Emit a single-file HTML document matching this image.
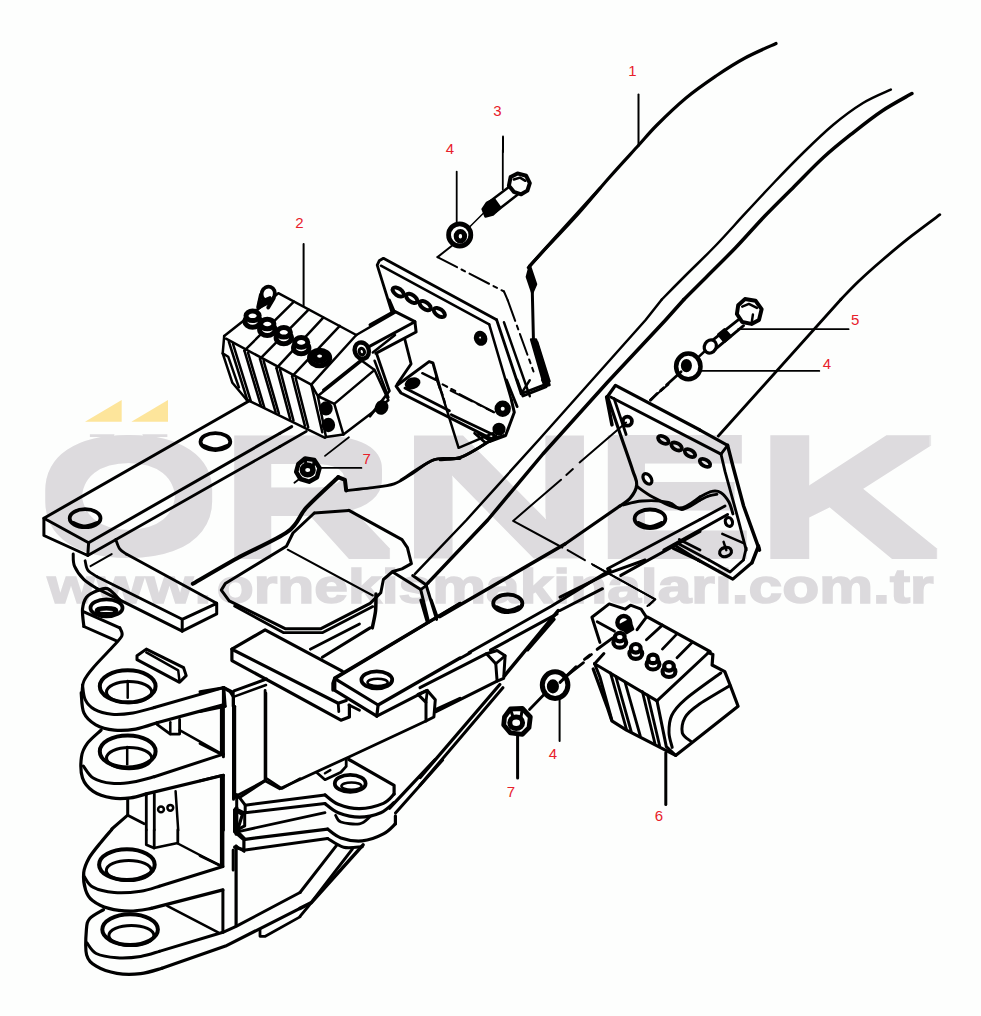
<!DOCTYPE html>
<html lang="tr"><head><meta charset="utf-8"><title>ÖRNEK</title>
<style>
html,body{margin:0;padding:0;background:#fdfefd;}
body{width:981px;height:1016px;overflow:hidden;position:relative;font-family:"Liberation Sans",sans-serif;}
svg{position:absolute;left:0;top:0;display:block}
.wm text{font-family:"Liberation Sans",sans-serif;font-weight:bold;fill:#dddbde}
.url{font-family:"Liberation Sans",sans-serif;font-weight:bold;fill:#dcdadd;stroke:#dcdadd;stroke-width:1.6;font-size:48.3px}
.ln path,.ln ellipse{fill:none;stroke:#000;stroke-linecap:round;stroke-linejoin:round}
.num text{font-family:"Liberation Sans",sans-serif;font-size:15px;fill:#e8202a;text-anchor:middle}
.lead path{fill:none;stroke:#000;stroke-width:1.4}
</style></head><body>
<svg width="981" height="1016" viewBox="0 0 981 1016">
<defs><filter id="dil" x="-5%" y="-10%" width="110%" height="120%"><feMorphology operator="dilate" radius="1 5"/></filter><clipPath id="oc"><rect x="30" y="434.2" width="200" height="134"/></clipPath></defs>
<g class="wm">
<g clip-path="url(#oc)"><g filter="url(#dil)"><text transform="translate(36.50,551.20) scale(2.374,1.600)" font-size="100">Ö</text></g></g>
<g filter="url(#dil)"><text transform="translate(219.12,553.60) scale(2.427,1.645)" font-size="100">R</text></g>
<g filter="url(#dil)"><text transform="translate(395.92,553.60) scale(2.856,1.645)" font-size="100">N</text></g>
<g filter="url(#dil)"><text transform="translate(592.53,553.60) scale(2.439,1.645)" font-size="100">E</text></g>
<g filter="url(#dil)"><text transform="translate(754.14,553.60) scale(2.557,1.645)" font-size="100">K</text></g>
<polygon points="85,421.7 121.7,421.7 121.7,400" fill="#fde59b" stroke="none"/>
<polygon points="131.4,421.7 168,421.7 168,400" fill="#fde59b" stroke="none"/>
</g>
<text class="url" transform="translate(47,603) scale(1.254,1)" x="0.5 39.6 79 117.6 135.4">www.ornekismakinalari.com.tr</text>
<g class="ln">
<!-- a_boom.txt -->
<path d="M776.0,43.5 C770.8,45.9 755.0,52.6 745.0,58.0 C735.0,63.4 725.8,69.3 716.0,76.0 C706.2,82.7 695.8,89.8 686.0,98.0 C676.2,106.2 665.2,116.8 657.0,125.0 C648.8,133.2 645.2,138.0 637.0,147.0 C628.8,156.0 617.8,167.8 608.0,179.0 C598.2,190.2 587.8,203.0 578.0,214.0 C568.2,225.0 557.3,236.1 549.0,245.0 C540.7,253.9 531.8,263.8 528.4,267.6" stroke-width="3.2"/>
<path d="M890.8,89.6 C886.2,91.8 872.6,97.1 863.0,103.0 C853.4,108.9 842.8,116.8 833.0,125.0 C823.2,133.2 813.7,142.5 804.0,152.0 C794.3,161.5 784.4,171.7 774.6,182.0 C764.8,192.3 754.8,203.1 745.0,213.7 C735.2,224.3 725.5,235.3 715.7,245.5 C705.9,255.7 695.0,266.0 686.0,275.0 C677.0,284.0 665.8,295.4 661.8,299.5" stroke-width="2.5"/>
<path d="M911.9,93.5 C907.0,96.4 892.2,104.2 882.4,110.7 C872.6,117.2 862.8,125.0 853.0,132.8 C843.2,140.6 833.4,148.3 823.6,157.3 C813.8,166.3 803.8,176.9 794.0,186.7 C784.2,196.5 774.6,205.8 764.8,216.0 C755.0,226.2 745.1,237.8 735.3,248.0 C725.5,258.2 714.6,268.8 706.0,277.4 C697.4,286.0 687.6,295.8 683.9,299.5" stroke-width="3.5"/>
<path d="M939.8,214.7 C935.1,218.2 921.5,228.1 911.9,235.7 C902.3,243.2 891.4,252.3 882.4,260.0 C873.4,267.7 864.8,275.4 857.9,282.0 C851.0,288.6 843.6,296.6 840.8,299.5" stroke-width="2.8"/>
<path d="M840.8,299.5 L718.3,436.0" stroke-width="2.8"/>
<path d="M661.8,299.5 L645.6,320.0 L540.0,438.5 L466.5,520.0 L415.0,573.8" stroke-width="2.5"/>
<path d="M683.9,299.5 L665.6,320.0 L607.0,382.8 L542.9,454.0 L487.7,520.0 L427.3,583.6" stroke-width="3.5"/>
<!-- b1.txt -->
<path d="M456.7,171.7 L456.7,223.8" stroke-width="1.8"/>
<path d="M502.8,150.0 L502.8,189.4" stroke-width="1.8"/>
<path d="M510.6,177.1 L517.5,173.4 L526.2,175.8 L529.8,183.2 L527.4,190.6 L521.2,194.3 L513.8,191.8 L508.9,185.7Z" stroke-width="4.0"/>
<path d="M513.8,179.5 L520.0,177.6 L525.4,180.8" stroke-width="2.5"/>
<path d="M508.9,186.9 L486.8,203.7" stroke-width="2.5"/>
<path d="M517.5,194.8 L495.9,211.5" stroke-width="2.5"/>
<path d="M486.8,202.9 L494.2,199.2 L500.3,207.8 L492.9,214.5 L485.5,216.5 L482.6,209.1Z" stroke-width="2.5" style="fill:#000"/>
<path d="M483.1,213.5 L468.3,228.3" stroke-width="1.5"/>
<ellipse cx="459.7" cy="234.9" rx="11.1" ry="11.1" transform="rotate(0 459.7 234.9)" stroke-width="4.8"/>
<ellipse cx="460.4" cy="236.2" rx="4.2" ry="4.7" transform="rotate(0 460.4 236.2)" stroke-width="5.0"/>
<path d="M451.6,246.0 L437.5,257.1" stroke-width="2.0"/>
<path d="M437.5,257.1 L504.0,291.5" stroke-width="2.0" stroke-dasharray="22,5,4,5"/>
<path d="M504.0,291.5 L507.7,300.2" stroke-width="2.0"/>
<path d="M507.7,300.2 L533.5,371.5" stroke-width="2.0" stroke-dasharray="22,5,4,5"/>
<path d="M392.0,312.5 L377.2,265.2 L379.2,260.8 L383.4,258.3 L496.6,319.8" stroke-width="2.8"/>
<path d="M380.9,265.7 L489.2,324.3" stroke-width="2.5"/>
<path d="M496.6,319.8 L521.2,393.7" stroke-width="2.8"/>
<path d="M489.2,324.3 L511.4,400.1" stroke-width="2.5"/>
<path d="M504.0,322.3 L529.8,396.2" stroke-width="2.5"/>
<path d="M521.2,393.7 L547.1,383.8" stroke-width="2.8"/>
<path d="M529.8,380.2 L521.2,393.7" stroke-width="2.5"/>
<ellipse cx="398.2" cy="292.0" rx="6.4" ry="3.4" transform="rotate(35 398.2 292.0)" stroke-width="4.0"/>
<ellipse cx="411.7" cy="298.4" rx="6.4" ry="3.4" transform="rotate(35 411.7 298.4)" stroke-width="4.0"/>
<ellipse cx="425.2" cy="305.6" rx="6.4" ry="3.4" transform="rotate(35 425.2 305.6)" stroke-width="4.0"/>
<ellipse cx="439.3" cy="312.5" rx="6.4" ry="3.4" transform="rotate(35 439.3 312.5)" stroke-width="4.0"/>
<ellipse cx="480.6" cy="338.3" rx="5.4" ry="6.4" transform="rotate(-20 480.6 338.3)" stroke-width="2.5" style="fill:#000"/>
<ellipse cx="480.1" cy="337.6" rx="1.5" ry="1.7" transform="rotate(0 480.1 337.6)" stroke-width="1.2" style="fill:#fff"/>
<path d="M600.0,188.2 L529.8,265.7" stroke-width="3.2"/>
<path d="M529.8,265.7 L526.9,276.8 L532.3,292.8 L536.0,284.2 L532.3,273.1Z" stroke-width="2.5" style="fill:#000"/>
<path d="M532.3,291.5 L533.5,342.0" stroke-width="3.0"/>
<path d="M531.1,339.5 L536.0,339.5 L549.5,385.1 L544.6,386.3Z" stroke-width="2.5" style="fill:#000"/>
<path d="M537.2,342.0 L549.5,381.4" stroke-width="2.5"/>
<!-- c_valve2.txt -->
<path d="M224.2,336.0 L278.3,293.2 L356.3,335.0" stroke-width="2.5"/>
<path d="M293.9,301.7 L244.4,350.6" stroke-width="2.5"/>
<path d="M308.6,309.7 L260.0,358.9" stroke-width="2.5"/>
<path d="M323.3,317.6 L276.5,368.1" stroke-width="2.5"/>
<path d="M339.8,325.9 L292.1,376.3" stroke-width="2.5"/>
<path d="M356.3,335.0 L311.3,384.6" stroke-width="2.5"/>
<path d="M226.0,338.7 L311.3,384.6" stroke-width="2.5"/>
<path d="M228.8,341.5 L247.1,399.3" stroke-width="2.5"/>
<path d="M233.0,343.9 L250.8,401.1" stroke-width="2.5"/>
<path d="M244.4,350.6 L260.9,405.7" stroke-width="2.5"/>
<path d="M248.0,352.7 L264.2,407.2" stroke-width="2.5"/>
<path d="M260.0,358.9 L275.6,412.1" stroke-width="2.5"/>
<path d="M263.6,360.9 L278.9,413.6" stroke-width="2.5"/>
<path d="M276.5,368.1 L290.2,419.1" stroke-width="2.5"/>
<path d="M280.1,369.9 L293.5,420.6" stroke-width="2.5"/>
<path d="M292.1,376.3 L304.9,425.9" stroke-width="2.5"/>
<path d="M295.7,378.3 L308.2,427.3" stroke-width="2.5"/>
<path d="M311.3,384.6 L322.3,432.3" stroke-width="2.5"/>
<path d="M246.2,399.3 L325.1,437.8" stroke-width="2.5"/>
<path d="M224.2,336.0 L222.7,353.4 L232.4,382.8 L246.2,399.3" stroke-width="2.5"/>
<path d="M222.7,353.4 L228.2,356.7 L238.9,387.3" stroke-width="2.5"/>
<path d="M311.3,384.6 L317.8,396.0 L326.0,436.9 L343.4,434.5 L388.4,400.2 L374.6,369.9 L334.3,403.9 L317.8,396.0 L361.8,360.7 L374.6,369.9" stroke-width="2.5"/>
<path d="M334.3,403.9 L343.4,434.5" stroke-width="2.5"/>
<path d="M323.3,390.1 L360.0,360.7" stroke-width="2.5"/>
<path d="M374.6,360.7 L388.4,397.4" stroke-width="2.5"/>
<ellipse cx="326.0" cy="408.4" rx="5.5" ry="5.9" transform="rotate(0 326.0 408.4)" stroke-width="2.5" style="fill:#000"/>
<ellipse cx="328.4" cy="425.0" rx="5.5" ry="5.9" transform="rotate(0 328.4 425.0)" stroke-width="2.5" style="fill:#000"/>
<ellipse cx="381.1" cy="406.6" rx="4.0" ry="5.1" transform="rotate(30 381.1 406.6)" stroke-width="2.5" style="fill:#000"/>
<ellipse cx="361.8" cy="350.6" rx="7.0" ry="8.3" transform="rotate(-20 361.8 350.6)" stroke-width="4.4"/>
<ellipse cx="361.8" cy="351.6" rx="2.6" ry="3.3" transform="rotate(-20 361.8 351.6)" stroke-width="3.1"/>
<path d="M356.3,335.0 L394.8,312.7" stroke-width="2.5"/>
<path d="M372.8,352.5 L395.0,335.0" stroke-width="2.5"/>
<ellipse cx="268.2" cy="293.8" rx="6.6" ry="7.3" transform="rotate(20 268.2 293.8)" stroke-width="3.8" style="fill:#fff"/>
<path d="M260.9,294.7 L258.1,307.5" stroke-width="3.8"/>
<path d="M273.7,298.3 L268.2,307.5" stroke-width="3.8"/>
<path d="M259.0,302.0 L270.0,297.4 L271.0,302.0 L260.0,307.5Z" stroke-width="2.5" style="fill:#000"/>
<ellipse cx="252.6" cy="321.3" rx="7.7" ry="5.9" transform="rotate(0 252.6 321.3)" stroke-width="5.0" style="fill:#fff"/>
<ellipse cx="252.6" cy="315.8" rx="6.6" ry="4.8" transform="rotate(0 252.6 315.8)" stroke-width="5.0" style="fill:#fff"/>
<ellipse cx="267.3" cy="329.5" rx="7.7" ry="5.9" transform="rotate(0 267.3 329.5)" stroke-width="5.0" style="fill:#fff"/>
<ellipse cx="267.3" cy="324.0" rx="6.6" ry="4.8" transform="rotate(0 267.3 324.0)" stroke-width="5.0" style="fill:#fff"/>
<ellipse cx="283.8" cy="337.8" rx="7.7" ry="5.9" transform="rotate(0 283.8 337.8)" stroke-width="5.0" style="fill:#fff"/>
<ellipse cx="283.8" cy="332.3" rx="6.6" ry="4.8" transform="rotate(0 283.8 332.3)" stroke-width="5.0" style="fill:#fff"/>
<ellipse cx="301.2" cy="347.9" rx="7.7" ry="5.9" transform="rotate(0 301.2 347.9)" stroke-width="5.0" style="fill:#fff"/>
<ellipse cx="301.2" cy="342.4" rx="6.6" ry="4.8" transform="rotate(0 301.2 342.4)" stroke-width="5.0" style="fill:#fff"/>
<ellipse cx="319.6" cy="358.0" rx="10.1" ry="7.7" transform="rotate(0 319.6 358.0)" stroke-width="5.0" style="fill:#fff"/>
<ellipse cx="319.6" cy="356.1" rx="6.6" ry="5.1" transform="rotate(0 319.6 356.1)" stroke-width="5.0" style="fill:#fff"/>
<ellipse cx="319.6" cy="356.1" rx="3.7" ry="2.8" transform="rotate(0 319.6 356.1)" stroke-width="2.5"/>
<!-- d1.txt -->
<path d="M248.6,401.3 L43.9,518.2 L88.6,542.7 L280.0,433.2" stroke-width="3.0"/>
<path d="M43.9,518.2 L43.9,535.5 L87.8,555.5 L88.6,542.7" stroke-width="3.0"/>
<path d="M87.8,555.5 L280.0,446.5" stroke-width="2.8"/>
<ellipse cx="85.1" cy="518.2" rx="15.4" ry="9.0" transform="rotate(0 85.1 518.2)" stroke-width="3.8"/>
<path d="M73.2,522.2 C75.2,522.8 81.1,525.7 85.1,525.7 C89.2,525.7 95.5,522.8 97.6,522.2" stroke-width="2.5"/>
<ellipse cx="215.4" cy="441.7" rx="14.9" ry="8.5" transform="rotate(0 215.4 441.7)" stroke-width="3.8"/>
<path d="M203.4,445.1 C205.4,445.7 211.4,448.6 215.4,448.6 C219.4,448.6 225.4,445.7 227.4,445.1" stroke-width="2.5"/>
<path d="M115.7,539.5 C116.4,541.1 117.9,546.4 119.7,548.8 C121.5,551.3 125.2,553.2 126.3,554.1" stroke-width="2.8"/>
<path d="M126.3,554.1 L216.7,603.3" stroke-width="2.8"/>
<path d="M85.1,560.8 C85.6,562.3 85.8,567.4 87.8,570.1 C89.8,572.7 95.5,575.6 97.1,576.7" stroke-width="2.8"/>
<path d="M97.1,576.7 L182.2,619.3" stroke-width="2.8"/>
<path d="M73.2,554.1 C73.4,556.1 72.7,561.9 74.5,566.1 C76.3,570.3 80.0,575.6 83.8,579.4 C87.6,583.2 94.9,587.1 97.1,588.7" stroke-width="3.0"/>
<path d="M97.1,588.7 L182.2,631.2" stroke-width="3.0"/>
<path d="M90.5,566.1 L111.7,554.1" stroke-width="2.0"/>
<path d="M216.7,603.3 L216.7,613.9 L182.2,631.2 L182.2,619.3 L216.7,603.3" stroke-width="3.0"/>
<!-- d2.txt -->
<ellipse cx="106.5" cy="607.9" rx="16.0" ry="8.5" transform="rotate(0 106.5 607.9)" stroke-width="3.8" style="fill:#fff"/>
<ellipse cx="106.5" cy="610.5" rx="10.6" ry="3.2" transform="rotate(0 106.5 610.5)" stroke-width="2.5" style="fill:#000"/>
<ellipse cx="106.5" cy="611.3" rx="7.4" ry="1.3" transform="rotate(0 106.5 611.3)" stroke-width="1.2" style="fill:#fff"/>
<path d="M119.8,599.9 C117.8,598.0 111.6,590.2 107.8,588.7 C104.0,587.2 100.7,589.4 97.2,590.8 C93.6,592.3 89.0,594.2 86.5,597.2 C84.1,600.3 83.0,604.3 82.5,609.2 C82.1,614.1 83.6,623.6 83.9,626.5" stroke-width="3.2"/>
<path d="M83.9,611.8 L119.8,627.8" stroke-width="3.0"/>
<path d="M83.9,626.5 L117.1,641.1" stroke-width="3.0"/>
<path d="M119.8,627.8 C120.1,629.1 123.2,632.4 121.9,635.8 C120.6,639.1 116.6,642.4 111.8,647.7 C107.0,653.0 97.8,662.1 93.2,667.7 C88.5,673.2 85.7,676.8 83.9,681.0 C82.0,685.2 82.3,690.9 82.0,692.9" stroke-width="3.0"/>
<path d="M82.5,685.0 C83.0,687.4 83.2,695.5 85.2,699.6 C87.2,703.6 90.1,707.0 94.5,709.4 C98.9,711.8 105.4,713.6 111.8,714.2 C118.2,714.8 126.0,714.0 133.0,712.9 C140.1,711.8 150.8,708.4 154.3,707.5" stroke-width="3.0"/>
<path d="M154.3,707.5 L223.4,687.6" stroke-width="3.0"/>
<path d="M81.2,692.9 C81.7,696.2 81.4,707.5 83.9,712.9 C86.3,718.2 90.7,721.9 95.8,724.8 C100.9,727.7 107.8,729.4 114.4,730.1 C121.1,730.9 128.6,730.3 135.7,729.1 C142.8,727.8 153.4,723.8 157.0,722.7" stroke-width="3.2"/>
<path d="M157.0,722.7 L223.4,704.9" stroke-width="3.2"/>
<ellipse cx="127.7" cy="686.3" rx="27.9" ry="16.0" transform="rotate(0 127.7 686.3)" stroke-width="4.0"/>
<ellipse cx="129.1" cy="692.1" rx="22.6" ry="10.6" transform="rotate(0 129.1 692.1)" stroke-width="3.0"/>
<path d="M127.7,681.0 L127.7,697.7" stroke-width="2.5"/>
<path d="M137.0,655.7 L146.3,649.1 L183.6,667.7 L186.2,675.6 L179.6,682.3 L137.0,659.7Z" stroke-width="3.0"/>
<path d="M146.3,652.3 L178.2,670.3 L179.6,681.8" stroke-width="2.5"/>
<path d="M101.1,730.1 C98.8,732.4 90.6,739.0 87.3,743.4 C84.0,747.9 82.3,751.0 81.5,756.7 C80.7,762.5 80.6,772.2 82.5,778.0 C84.5,783.8 88.3,788.0 93.2,791.3 C98.0,794.6 105.6,796.8 111.8,797.9 C118.0,799.0 124.6,798.6 130.4,797.9 C136.1,797.3 143.7,794.6 146.3,793.9" stroke-width="3.2"/>
<path d="M146.3,793.9 L223.4,775.3" stroke-width="3.2"/>
<path d="M83.3,766.0 C85.0,768.0 88.4,775.1 93.2,778.0 C97.9,780.9 105.1,782.7 111.8,783.3 C118.4,784.0 126.0,783.1 133.0,782.0 C140.1,780.9 150.8,777.6 154.3,776.7" stroke-width="3.0"/>
<path d="M154.3,776.7 L223.4,754.1" stroke-width="3.0"/>
<ellipse cx="127.7" cy="751.4" rx="27.9" ry="16.0" transform="rotate(0 127.7 751.4)" stroke-width="4.0"/>
<ellipse cx="129.1" cy="758.1" rx="22.6" ry="10.6" transform="rotate(0 129.1 758.1)" stroke-width="3.0"/>
<path d="M127.2,746.9 L127.2,764.2" stroke-width="2.5"/>
<path d="M223.4,687.6 L223.4,756.7" stroke-width="3.0"/>
<path d="M223.4,687.6 L230.1,691.6 L233.5,696.9 L233.5,799.3" stroke-width="3.0"/>
<path d="M223.4,775.3 L223.4,830.1" stroke-width="3.0"/>
<path d="M236.7,807.2 L236.7,830.1" stroke-width="3.0"/>
<path d="M233.5,696.9 L266.0,685.0" stroke-width="2.5"/>
<path d="M157.0,724.3 L170.3,734.1 L179.6,734.1 L179.6,719.5" stroke-width="2.8"/>
<path d="M170.3,722.2 L170.3,734.1" stroke-width="2.5"/>
<path d="M179.6,730.1 L222.1,754.1" stroke-width="2.5"/>
<path d="M146.3,795.3 L146.3,830.1" stroke-width="2.8"/>
<path d="M154.3,793.9 L154.3,830.1" stroke-width="2.8"/>
<path d="M175.6,791.3 L178.2,830.1" stroke-width="2.5"/>
<ellipse cx="161.0" cy="809.4" rx="2.9" ry="2.9" transform="rotate(0 161.0 809.4)" stroke-width="2.5"/>
<ellipse cx="170.3" cy="807.8" rx="2.9" ry="2.9" transform="rotate(0 170.3 807.8)" stroke-width="2.5"/>
<path d="M127.7,799.3 L127.7,815.2 L111.8,829.0" stroke-width="3.0"/>
<path d="M127.7,815.2 L144.2,823.7" stroke-width="2.8"/>
<path d="M266.0,692.9 L266.0,778.0 L281.9,788.6 L300.0,778.5" stroke-width="2.5"/>
<path d="M235.4,796.6 L266.0,780.1" stroke-width="2.8"/>
<path d="M235.4,808.6 L244.7,813.1 L244.7,825.9 L236.7,830.1" stroke-width="3.0"/>
<!-- d3.txt -->
<path d="M146.3,830.0 L146.3,844.8 L154.0,848.0 L177.8,843.0 L177.8,830.0" stroke-width="2.8"/>
<path d="M154.2,830.0 L154.2,848.0" stroke-width="2.8"/>
<path d="M177.8,843.5 L220.8,866.0" stroke-width="2.5"/>
<path d="M111.8,829.4 C110.0,831.6 104.8,837.4 101.0,842.2 C97.2,846.9 91.9,853.0 89.0,858.1 C86.2,863.1 84.3,867.3 83.7,872.6 C83.2,877.9 84.1,885.2 85.6,889.9 C87.0,894.5 88.6,897.4 92.5,900.5 C96.4,903.6 102.6,906.7 108.9,908.4 C115.2,910.2 123.0,911.1 130.1,911.1 C137.2,911.1 147.8,908.9 151.3,908.4" stroke-width="3.2"/>
<path d="M151.3,908.4 L222.9,889.9" stroke-width="3.2"/>
<path d="M84.3,876.6 C85.7,878.4 88.0,884.6 93.0,887.2 C98.0,889.9 106.3,891.9 114.2,892.5 C122.2,893.2 133.2,892.3 140.7,891.2 C148.2,890.1 156.2,887.0 159.3,886.2" stroke-width="3.0"/>
<path d="M159.3,886.2 L222.9,866.5" stroke-width="3.0"/>
<ellipse cx="126.9" cy="864.7" rx="27.8" ry="15.4" transform="rotate(0 126.9 864.7)" stroke-width="4.0"/>
<ellipse cx="128.8" cy="870.5" rx="22.5" ry="10.1" transform="rotate(0 128.8 870.5)" stroke-width="3.0"/>
<path d="M222.9,830.0 L222.9,866.5" stroke-width="3.0"/>
<path d="M222.9,889.9 L222.9,932.3" stroke-width="3.0"/>
<path d="M167.2,905.8 L218.1,932.3" stroke-width="2.5"/>
<path d="M103.6,909.7 C101.3,911.2 92.7,915.2 89.8,918.5 C87.0,921.8 86.9,923.6 86.4,929.6 C85.9,935.7 85.0,948.7 86.6,954.8 C88.3,960.9 91.2,963.1 96.2,966.2 C101.2,969.3 109.4,972.1 116.9,973.4 C124.3,974.6 133.2,974.5 140.7,973.6 C148.2,972.8 158.4,969.2 161.9,968.3" stroke-width="3.2"/>
<path d="M161.9,968.3 L225.5,946.1 L300.0,908.4" stroke-width="3.2"/>
<path d="M86.9,942.9 C88.5,944.6 91.2,951.0 96.2,953.5 C101.2,956.0 109.4,957.2 116.9,957.7 C124.3,958.2 133.6,957.5 140.7,956.4 C147.8,955.3 156.2,952.2 159.3,951.4" stroke-width="3.0"/>
<path d="M159.3,951.4 L222.9,932.3 L236.1,926.4 L300.0,892.5" stroke-width="3.0"/>
<ellipse cx="130.1" cy="929.6" rx="27.8" ry="15.4" transform="rotate(0 130.1 929.6)" stroke-width="4.0"/>
<ellipse cx="131.4" cy="935.5" rx="22.5" ry="10.1" transform="rotate(0 131.4 935.5)" stroke-width="3.0"/>
<path d="M236.7,830.0 L236.7,794.5" stroke-width="3.0"/>
<path d="M236.1,809.0 L236.1,834.2" stroke-width="3.0"/>
<path d="M236.1,846.1 L244.1,851.4" stroke-width="2.8"/>
<path d="M236.1,846.1 L236.1,925.7" stroke-width="3.2"/>
<path d="M260.0,929.6 L260.0,936.3 L265.3,936.3 L300.0,916.9" stroke-width="2.8"/>
<!-- e1.txt -->
<path d="M370.1,627.9 L322.3,657.2" stroke-width="3.0"/>
<path d="M310.3,649.2 L359.5,623.9" stroke-width="2.8"/>
<path d="M420.7,600.0 L427.3,622.6" stroke-width="2.8"/>
<path d="M431.3,600.0 L437.1,616.5" stroke-width="2.8"/>
<path d="M342.2,671.2 L265.1,629.8 L231.9,649.2 L338.2,703.2 L346.2,700.5" stroke-width="3.2"/>
<path d="M231.9,649.2 L231.9,660.6 L340.9,720.2 L349.4,717.0 L349.4,705.0" stroke-width="3.2"/>
<path d="M338.2,703.2 L338.8,711.7" stroke-width="2.8"/>
<path d="M460.0,603.5 L334.8,678.7 L378.1,705.0 L460.0,658.0" stroke-width="3.2"/>
<path d="M334.8,678.7 L334.8,690.4 L376.8,716.2 L378.1,705.0" stroke-width="3.2"/>
<path d="M376.8,716.2 L426.0,690.9" stroke-width="3.0"/>
<ellipse cx="376.8" cy="679.8" rx="15.4" ry="8.5" transform="rotate(0 376.8 679.8)" stroke-width="3.8" style="fill:#fff"/>
<ellipse cx="377.6" cy="682.4" rx="10.1" ry="3.7" transform="rotate(0 377.6 682.4)" stroke-width="2.5"/>
<path d="M348.9,705.0 L359.5,710.3" stroke-width="2.8"/>
<path d="M418.0,694.4 L427.3,690.4 L435.3,699.7 L433.9,717.0 L426.0,721.0 L426.0,702.4Z" stroke-width="3.0"/>
<path d="M427.3,690.4 L426.0,702.4" stroke-width="2.8"/>
<path d="M436.6,709.0 L460.0,698.4" stroke-width="3.0"/>
<path d="M200.0,691.7 L223.9,687.7 L233.2,692.3 L233.2,706.3" stroke-width="3.0"/>
<path d="M223.9,687.7 L225.3,706.3" stroke-width="2.8"/>
<path d="M234.0,690.9 L266.5,679.0" stroke-width="3.0"/>
<path d="M200.0,711.7 L225.3,706.3" stroke-width="2.8"/>
<path d="M234.6,706.3 L234.6,796.7" stroke-width="3.2"/>
<path d="M265.1,690.4 L265.1,780.8 L279.8,788.8 L348.9,756.9 L426.0,721.0" stroke-width="2.8"/>
<path d="M265.1,780.8 L239.9,797.3 L234.6,797.3" stroke-width="3.0"/>
<path d="M239.9,798.1 L245.2,805.2 L325.0,794.9" stroke-width="3.0"/>
<path d="M325.0,794.9 C327.2,796.4 332.5,801.9 338.2,804.2 C344.0,806.5 352.0,808.8 359.5,808.7 C367.0,808.6 377.7,805.8 383.4,803.4 C389.2,800.9 392.3,795.6 394.1,794.1" stroke-width="3.2"/>
<path d="M394.1,794.1 L394.1,785.3 L348.9,759.5" stroke-width="3.2"/>
<path d="M245.2,805.2 L245.2,812.7 L325.0,803.6" stroke-width="3.0"/>
<path d="M325.0,803.6 C327.2,805.1 332.5,810.4 338.2,812.7 C344.0,814.9 352.4,817.2 359.5,817.2 C366.6,817.2 375.0,815.1 380.8,812.7 C386.5,810.2 391.9,804.3 394.1,802.6" stroke-width="3.2"/>
<ellipse cx="350.2" cy="783.4" rx="15.4" ry="8.5" transform="rotate(0 350.2 783.4)" stroke-width="3.8" style="fill:#fff"/>
<ellipse cx="351.5" cy="786.1" rx="10.1" ry="3.7" transform="rotate(0 351.5 786.1)" stroke-width="2.5"/>
<path d="M317.0,772.8 L325.0,779.7 L340.9,772.3 L346.2,766.4 L346.2,759.5" stroke-width="2.8"/>
<path d="M330.3,770.1 L325.0,773.3" stroke-width="2.5"/>
<path d="M234.6,810.0 L242.5,814.3 L237.2,831.3 L245.2,839.3 L327.6,829.2" stroke-width="3.2"/>
<path d="M327.6,829.2 C329.8,830.6 335.1,836.0 340.9,837.9 C346.7,839.9 355.1,841.5 362.2,840.9 C369.3,840.2 377.9,836.8 383.4,833.9 C389.0,831.1 393.4,825.5 395.4,823.8" stroke-width="3.2"/>
<path d="M395.4,823.8 L395.4,815.9" stroke-width="3.2"/>
<path d="M234.6,810.0 L234.6,831.8 L243.9,839.8 L243.9,849.9 L234.6,847.2" stroke-width="3.2"/>
<path d="M245.2,849.9 L327.6,838.5" stroke-width="3.0"/>
<path d="M327.6,838.5 C330.3,839.9 337.8,845.9 343.6,847.2 C349.3,848.6 359.1,846.8 362.2,846.7" stroke-width="3.0"/>
<path d="M335.6,815.3 C336.5,816.4 336.9,820.6 340.9,822.0 C344.9,823.4 354.6,824.7 359.5,823.8 C364.4,823.0 368.4,817.9 370.1,816.7" stroke-width="2.8"/>
<path d="M200.0,743.6 L221.3,754.2 L221.3,706.9" stroke-width="2.8"/>
<path d="M200.0,780.8 L221.3,775.5 L221.3,865.9 L200.0,855.7" stroke-width="2.8"/>
<path d="M233.2,849.9 L233.2,870.1" stroke-width="3.0"/>
<path d="M237.2,831.8 L325.0,812.7" stroke-width="2.8"/>
<!-- e2.txt -->
<path d="M280.0,433.2 L291.7,426.6" stroke-width="3.0"/>
<path d="M280.0,446.5 L306.3,431.4" stroke-width="2.8"/>
<path d="M298.4,463.9 L305.0,458.5 L314.3,459.9 L319.6,467.9 L317.0,477.2 L309.0,481.7 L300.5,479.0 L296.2,471.8Z" stroke-width="4.5"/>
<ellipse cx="307.7" cy="470.0" rx="5.3" ry="4.8" transform="rotate(0 307.7 470.0)" stroke-width="5.6"/>
<path d="M305.0,458.5 L306.3,466.5" stroke-width="3.0"/>
<path d="M314.3,459.9 L313.0,467.9" stroke-width="3.0"/>
<path d="M318.3,467.9 L361.4,467.9" stroke-width="1.8"/>
<path d="M348.9,437.3 L325.0,455.9" stroke-width="1.8"/>
<path d="M301.6,477.2 L294.4,482.7" stroke-width="1.8"/>
<path d="M192.8,583.8 C200.2,579.5 221.4,566.9 237.2,558.2 C253.0,549.6 276.2,540.1 287.7,531.7 C299.3,523.2 297.9,516.8 306.3,507.7 C314.8,498.6 332.9,482.3 338.2,477.2" stroke-width="4.0"/>
<path d="M338.2,477.2 L344.9,479.8 L346.2,490.5" stroke-width="4.0"/>
<path d="M346.2,490.5 C350.2,490.0 362.2,488.9 370.1,487.8 C378.1,486.7 387.0,486.2 394.1,483.8 C401.2,481.4 406.0,477.2 412.7,473.2 C419.3,469.2 426.1,462.3 433.9,459.9 C441.8,457.4 455.7,458.8 460.0,458.5" stroke-width="2.8"/>
<path d="M314.3,513.0 L348.9,510.4" stroke-width="3.0"/>
<path d="M348.9,510.4 L402.0,539.6 L407.4,547.6 L411.4,563.6 L402.0,568.9 L392.7,571.5 L383.4,579.5 L380.8,592.8 L370.1,603.4 L321.0,628.7 L285.1,628.7 L229.2,600.8 L221.3,590.1 L225.3,583.5 L286.4,546.3 L293.0,533.0 L314.3,513.0" stroke-width="3.0"/>
<path d="M234.6,606.1 L283.7,632.7 L322.3,632.7 L372.8,606.6" stroke-width="2.8"/>
<path d="M287.7,549.7 L372.8,595.5" stroke-width="2.0"/>
<path d="M376.0,594.1 C375.9,597.0 376.1,605.8 375.5,611.4 C374.8,617.0 372.8,625.1 372.3,627.9" stroke-width="3.5"/>
<path d="M392.7,572.1 L420.7,589.6 L428.6,622.0" stroke-width="3.0"/>
<path d="M412.7,575.5 L426.0,584.8 L436.6,619.4" stroke-width="3.0"/>
<path d="M420.7,589.6 L426.5,585.4" stroke-width="2.8"/>
<path d="M460.0,603.4 L334.8,677.9 L332.9,683.2 L332.9,690.1" stroke-width="3.2"/>
<!-- f1.txt -->
<path d="M607.5,396.5 L615.5,385.3 L700.0,430.0" stroke-width="3.2"/>
<path d="M607.5,396.5 C609.7,403.0 616.6,423.5 620.8,435.8 C625.0,448.1 630.1,462.2 632.7,470.4 C635.4,478.6 637.2,480.4 636.7,485.0 C636.3,489.7 633.0,494.8 630.1,498.3 C627.2,501.8 621.2,505.0 619.4,506.3" stroke-width="3.2"/>
<path d="M619.4,506.3 L565.0,544.0" stroke-width="3.2"/>
<path d="M614.1,398.6 L626.1,434.5" stroke-width="2.8"/>
<path d="M636.7,486.3 C639.4,488.1 645.6,493.3 652.7,497.0 C659.8,500.6 671.4,508.1 679.3,508.1 C687.2,508.1 696.5,498.8 700.0,497.0" stroke-width="3.0"/>
<path d="M623.4,505.0 C626.5,504.3 634.5,501.4 642.0,501.0 C649.6,500.5 662.0,500.9 668.6,502.3 C675.3,503.7 676.7,509.8 681.9,509.5 C687.2,509.1 697.0,501.7 700.0,500.2" stroke-width="2.8"/>
<ellipse cx="663.3" cy="439.8" rx="5.8" ry="3.2" transform="rotate(30 663.3 439.8)" stroke-width="3.8"/>
<ellipse cx="676.6" cy="446.5" rx="5.8" ry="3.2" transform="rotate(30 676.6 446.5)" stroke-width="3.8"/>
<ellipse cx="689.9" cy="453.1" rx="5.8" ry="3.2" transform="rotate(30 689.9 453.1)" stroke-width="3.8"/>
<ellipse cx="627.4" cy="421.2" rx="4.5" ry="4.5" transform="rotate(0 627.4 421.2)" stroke-width="3.8"/>
<ellipse cx="647.4" cy="478.9" rx="3.7" ry="5.8" transform="rotate(-35 647.4 478.9)" stroke-width="3.2"/>
<path d="M626.1,422.5 L579.6,462.4" stroke-width="2.0"/>
<path d="M572.9,469.1 L566.3,474.9" stroke-width="2.0"/>
<path d="M561.0,479.7 L513.1,520.9 L562.3,547.5" stroke-width="2.0"/>
<path d="M567.6,550.1 L584.9,560.2" stroke-width="2.0"/>
<path d="M592.9,564.8 L655.3,599.3 L647.4,606.0" stroke-width="2.0"/>
<path d="M650.0,399.9 L673.9,380.0" stroke-width="2.0" stroke-dasharray="24,8"/>
<path d="M440.0,616.6 L565.0,544.0" stroke-width="3.5"/>
<ellipse cx="650.0" cy="518.8" rx="15.4" ry="9.3" transform="rotate(0 650.0 518.8)" stroke-width="3.8"/>
<path d="M638.1,522.2 C640.1,522.9 646.0,526.2 650.0,526.2 C654.0,526.2 660.0,522.9 662.0,522.2" stroke-width="2.5"/>
<ellipse cx="507.8" cy="603.3" rx="14.6" ry="8.8" transform="rotate(0 507.8 603.3)" stroke-width="3.8"/>
<path d="M496.4,606.5 C498.3,607.1 504.0,610.2 507.8,610.2 C511.6,610.2 517.3,607.1 519.2,606.5" stroke-width="2.5"/>
<path d="M607.5,568.8 L700.0,519.6" stroke-width="2.8"/>
<path d="M620.8,575.4 L700.0,531.5" stroke-width="3.0"/>
<path d="M469.2,652.5 L551.7,606.0 L610.1,570.1" stroke-width="3.0"/>
<path d="M490.5,650.1 L557.0,613.9" stroke-width="3.0"/>
<path d="M527.7,650.1 L554.3,619.3" stroke-width="2.8"/>
<path d="M673.9,544.8 L700.0,561.3" stroke-width="2.8"/>
<path d="M679.3,539.5 L700.0,550.1" stroke-width="2.8"/>
<path d="M440.0,388.0 L458.6,447.8 L493.2,433.2" stroke-width="2.5"/>
<path d="M440.0,459.8 C443.5,459.3 453.7,459.8 461.3,457.1 C468.8,454.4 479.7,447.3 485.2,443.8 C490.7,440.3 492.9,437.6 494.5,436.4" stroke-width="2.8"/>
<ellipse cx="499.0" cy="429.2" rx="5.3" ry="5.3" transform="rotate(0 499.0 429.2)" stroke-width="2.5" style="fill:#000"/>
<ellipse cx="502.7" cy="408.7" rx="5.1" ry="5.1" transform="rotate(0 502.7 408.7)" stroke-width="6.2"/>
<path d="M450.6,390.6 L493.2,411.9" stroke-width="2.0" stroke-dasharray="24,6,4,6"/>
<path d="M506.5,380.0 L517.1,406.6" stroke-width="2.8"/>
<path d="M517.1,380.0 L522.9,396.0 L546.3,386.6 L542.4,380.0" stroke-width="2.8"/>
<path d="M474.6,433.2 L485.2,442.5" stroke-width="2.8"/>
<!-- g1.txt -->
<path d="M665.8,752.7 L665.8,804.6" stroke-width="3.0"/>
<path d="M647.7,617.2 L710.2,651.7" stroke-width="3.2"/>
<path d="M594.6,663.7 L603.9,653.6" stroke-width="3.0"/>
<path d="M662.4,625.1 L646.4,639.8" stroke-width="2.8"/>
<path d="M677.0,633.9 L662.4,649.1" stroke-width="2.8"/>
<path d="M692.1,642.4 L677.0,657.8" stroke-width="2.8"/>
<path d="M708.1,653.0 L657.0,700.9" stroke-width="3.0"/>
<path d="M594.6,663.7 L657.0,700.9" stroke-width="3.0"/>
<path d="M594.6,663.7 L599.9,677.0 L611.8,720.0" stroke-width="3.0"/>
<path d="M610.5,673.0 L626.5,729.3" stroke-width="2.8"/>
<path d="M615.8,676.4 L631.2,731.5" stroke-width="2.8"/>
<path d="M625.1,682.3 L640.3,736.0" stroke-width="2.8"/>
<path d="M642.4,691.6 L654.9,743.4" stroke-width="2.8"/>
<path d="M647.7,695.1 L659.7,746.1" stroke-width="2.8"/>
<path d="M657.0,700.9 L666.3,746.6 L675.6,755.4" stroke-width="3.0"/>
<path d="M593.2,669.0 L607.9,708.9 L611.8,720.8 L626.5,730.1 L675.6,755.4 L690.3,744.0 L738.1,706.2 L730.1,685.0 L724.8,671.7 L712.1,665.0 L712.9,654.4 L708.1,652.5" stroke-width="3.2"/>
<path d="M720.8,673.0 C714.9,677.4 693.1,692.5 685.0,699.6 C676.8,706.7 674.3,710.0 671.7,715.5 C669.0,721.1 668.9,727.5 669.0,732.8 C669.1,738.1 671.7,745.0 672.2,747.4" stroke-width="3.0"/>
<path d="M730.1,685.5 C724.8,688.7 705.8,699.6 698.2,704.9 C690.7,710.2 687.6,712.7 685.0,717.4 C682.3,722.0 681.3,728.8 682.3,732.8 C683.3,736.8 689.4,739.9 690.8,741.3" stroke-width="3.0"/>
<ellipse cx="619.8" cy="642.4" rx="6.4" ry="5.3" transform="rotate(0 619.8 642.4)" stroke-width="4.2" style="fill:#fff"/>
<ellipse cx="619.8" cy="637.1" rx="4.8" ry="4.3" transform="rotate(0 619.8 637.1)" stroke-width="4.2" style="fill:#fff"/>
<ellipse cx="635.8" cy="653.6" rx="6.4" ry="5.3" transform="rotate(0 635.8 653.6)" stroke-width="4.2" style="fill:#fff"/>
<ellipse cx="635.8" cy="648.3" rx="4.8" ry="4.3" transform="rotate(0 635.8 648.3)" stroke-width="4.2" style="fill:#fff"/>
<ellipse cx="653.0" cy="664.2" rx="6.4" ry="5.3" transform="rotate(0 653.0 664.2)" stroke-width="4.2" style="fill:#fff"/>
<ellipse cx="653.0" cy="658.9" rx="4.8" ry="4.3" transform="rotate(0 653.0 658.9)" stroke-width="4.2" style="fill:#fff"/>
<ellipse cx="669.0" cy="671.7" rx="6.4" ry="5.3" transform="rotate(0 669.0 671.7)" stroke-width="4.2" style="fill:#fff"/>
<ellipse cx="669.0" cy="666.3" rx="4.8" ry="4.3" transform="rotate(0 669.0 666.3)" stroke-width="4.2" style="fill:#fff"/>
<path d="M599.9,642.4 L591.9,617.2 L609.2,603.9 L625.1,609.2 L630.5,605.2 L641.1,609.2 L646.4,617.2 L637.1,629.7" stroke-width="3.0"/>
<path d="M597.2,621.7 L614.5,631.2" stroke-width="2.8"/>
<ellipse cx="623.8" cy="622.5" rx="6.4" ry="6.4" transform="rotate(0 623.8 622.5)" stroke-width="4.5"/>
<path d="M619.8,625.1 L629.7,619.8 L633.1,629.1 L626.5,633.1Z" stroke-width="2.5" style="fill:#000"/>
<path d="M560.0,682.3 L576.0,666.9" stroke-width="3.0"/>
<path d="M584.5,659.4 L589.8,655.2" stroke-width="3.0"/>
<path d="M597.2,649.3 L613.2,637.6" stroke-width="3.0"/>
<path d="M591.9,564.0 L655.2,599.3 L649.1,605.2" stroke-width="2.0"/>
<path d="M560.0,597.2 L607.9,573.3 L645.1,560.0" stroke-width="3.0"/>
<path d="M560.0,610.5 L602.5,588.7" stroke-width="3.0"/>
<path d="M698.2,560.0 L732.8,579.1 L751.9,562.7" stroke-width="3.2"/>
<path d="M708.9,560.0 L730.1,572.0 L743.4,560.0" stroke-width="2.8"/>
<!-- h1.txt -->
<path d="M610.6,397.0 L721.0,454.1" stroke-width="3.0"/>
<path d="M727.6,445.4 L732.9,466.1 L743.6,506.0 L759.5,550.1" stroke-width="3.5"/>
<path d="M721.0,454.1 L725.0,471.4 L738.2,519.3 L746.2,550.1" stroke-width="2.8"/>
<path d="M727.6,445.4 L721.0,454.1" stroke-width="2.8"/>
<path d="M606.6,397.0 L612.0,424.9" stroke-width="3.5"/>
<ellipse cx="705.0" cy="462.9" rx="5.8" ry="3.2" transform="rotate(30 705.0 462.9)" stroke-width="3.8"/>
<path d="M700.0,496.9 C701.9,496.0 708.2,492.1 711.7,491.4 C715.2,490.6 718.1,490.9 721.0,492.7 C723.8,494.5 726.9,498.4 728.9,502.0 C730.9,505.5 732.3,512.0 732.9,513.9" stroke-width="3.0"/>
<path d="M700.0,500.1 C701.5,499.4 706.2,496.8 709.0,495.9 C711.8,494.9 715.6,494.5 717.0,494.3" stroke-width="2.8"/>
<path d="M700.0,519.5 L725.0,506.0" stroke-width="2.8"/>
<path d="M663.8,550.1 L727.6,514.5" stroke-width="3.0"/>
<ellipse cx="728.9" cy="521.9" rx="3.5" ry="4.5" transform="rotate(-20 728.9 521.9)" stroke-width="3.2"/>
<path d="M722.3,533.9 L743.6,543.2" stroke-width="2.5"/>
<path d="M723.6,541.9 L726.3,550.1" stroke-width="2.5"/>
<path d="M738.2,305.3 L744.9,299.1 L755.5,300.7 L761.6,309.2 L759.0,319.9 L751.5,323.9 L742.2,322.0 L736.9,314.0Z" stroke-width="4.0"/>
<path d="M742.2,306.6 L748.9,303.9 L756.9,307.9" stroke-width="2.5"/>
<path d="M751.5,323.9 L752.9,314.6" stroke-width="2.5"/>
<path d="M738.2,319.9 L713.0,339.8" stroke-width="2.8"/>
<path d="M743.6,325.7 L714.8,349.7" stroke-width="2.8"/>
<path d="M718.3,334.5 L724.4,329.4 L730.8,336.4 L724.4,341.7Z" stroke-width="2.5" style="fill:#000"/>
<ellipse cx="710.3" cy="346.5" rx="5.8" ry="6.9" transform="rotate(30 710.3 346.5)" stroke-width="3.2" style="fill:#fff"/>
<path d="M705.5,350.5 L698.4,357.1" stroke-width="2.5"/>
<path d="M738.2,329.2 L848.6,329.2" stroke-width="1.8"/>
<ellipse cx="688.3" cy="366.4" rx="12.2" ry="12.8" transform="rotate(0 688.3 366.4)" stroke-width="4.5"/>
<ellipse cx="686.4" cy="365.6" rx="4.3" ry="5.3" transform="rotate(0 686.4 365.6)" stroke-width="2.5" style="fill:#000"/>
<path d="M699.7,370.9 L819.3,370.9" stroke-width="1.8"/>
<path d="M681.1,371.7 L666.5,385.0" stroke-width="2.8"/>
<path d="M663.8,387.7 L660.6,390.6" stroke-width="2.8"/>
<path d="M657.2,393.5 L650.5,400.2" stroke-width="2.8"/>
<path d="M700.0,430.2 L727.6,445.4" stroke-width="3.2"/>
<!-- i1.txt -->
<path d="M370.0,324.8 L394.2,311.2 L414.9,321.7 L416.1,332.0 L375.8,353.3" stroke-width="3.0"/>
<path d="M370.0,346.1 L414.9,321.7" stroke-width="3.0"/>
<path d="M394.2,311.2 L389.4,300.0" stroke-width="2.8"/>
<path d="M404.9,339.7 L411.1,363.9 L397.1,384.3" stroke-width="2.8"/>
<path d="M376.8,354.2 L389.4,391.0 L370.0,416.2" stroke-width="2.8"/>
<ellipse cx="381.6" cy="407.5" rx="5.4" ry="6.2" transform="rotate(30 381.6 407.5)" stroke-width="2.5" style="fill:#000"/>
<path d="M397.1,385.2 L429.1,361.6 L432.9,362.9 L439.9,387.9" stroke-width="3.0"/>
<path d="M422.3,373.2 L435.9,379.8" stroke-width="2.5"/>
<path d="M396.1,386.2 L401.0,393.0 L492.0,439.1 L503.6,435.6" stroke-width="3.0"/>
<path d="M404.9,388.1 L449.4,410.8" stroke-width="2.8"/>
<path d="M451.3,414.7 L495.9,436.0" stroke-width="2.8"/>
<ellipse cx="412.6" cy="383.3" rx="5.4" ry="3.1" transform="rotate(-20 412.6 383.3)" stroke-width="2.5" style="fill:#000"/>
<ellipse cx="412.6" cy="383.3" rx="6.6" ry="4.3" transform="rotate(-20 412.6 383.3)" stroke-width="3.0"/>
<path d="M442.6,384.4 L447.1,386.8" stroke-width="2.2"/>
<path d="M451.3,389.1 L455.2,391.0" stroke-width="2.2"/>
<path d="M459.5,394.1 L494.0,412.3" stroke-width="2.2"/>
<path d="M435.9,377.5 L442.6,394.9" stroke-width="2.2"/>
<path d="M443.8,398.8 L444.8,402.7" stroke-width="2.2"/>
<path d="M511.4,399.9 L514.3,412.3 L505.6,435.6 L490.1,441.4" stroke-width="3.0"/>
<path d="M478.5,433.6 L490.1,440.6" stroke-width="2.8"/>
<path d="M401.0,479.9 C406.5,476.6 424.2,463.5 433.9,459.8 C443.6,456.1 450.4,460.6 459.1,457.9 C467.8,455.1 480.4,446.4 486.2,443.3 C492.0,440.3 492.7,440.1 494.0,439.5" stroke-width="2.8"/>
<!-- j1.txt -->
<ellipse cx="555.1" cy="685.1" rx="12.8" ry="13.3" transform="rotate(0 555.1 685.1)" stroke-width="5.0"/>
<ellipse cx="552.9" cy="686.4" rx="4.8" ry="5.8" transform="rotate(0 552.9 686.4)" stroke-width="2.5" style="fill:#000"/>
<path d="M559.6,699.7 L559.6,740.9" stroke-width="2.0"/>
<path d="M504.5,717.0 L510.4,709.0 L522.4,708.5 L530.3,717.0 L529.0,727.6 L522.4,734.3 L510.4,732.9 L503.7,725.0Z" stroke-width="4.8"/>
<ellipse cx="516.2" cy="722.8" rx="6.4" ry="5.8" transform="rotate(0 516.2 722.8)" stroke-width="5.0"/>
<path d="M510.4,709.0 L513.0,717.0" stroke-width="3.0"/>
<path d="M522.4,708.5 L521.0,717.0" stroke-width="3.0"/>
<path d="M517.6,735.6 L517.6,778.1" stroke-width="3.0"/>
<path d="M564.9,677.1 L583.5,662.7" stroke-width="2.8"/>
<path d="M587.0,658.0 L591.5,654.5" stroke-width="2.8"/>
<path d="M529.5,709.5 L545.0,693.6" stroke-width="2.8"/>
<path d="M420.0,687.7 L486.5,653.7" stroke-width="3.0"/>
<path d="M486.5,653.7 L497.1,650.5 L505.1,655.8 L503.7,678.4 L497.1,681.1 L495.8,663.8Z" stroke-width="3.0"/>
<path d="M495.8,663.8 L505.1,655.8" stroke-width="2.8"/>
<path d="M497.1,681.1 L436.0,711.7" stroke-width="3.0"/>
<path d="M558.2,610.6 L504.5,675.8" stroke-width="3.5"/>
<path d="M499.8,684.5 L420.0,777.6" stroke-width="3.2"/>
<path d="M502.9,687.7 L420.0,785.3" stroke-width="3.0"/>
<path d="M459.9,658.5 L470.5,652.6" stroke-width="3.0"/>
<!-- k1.txt -->
<path d="M300.0,908.4 L311.4,902.6 L363.1,844.8" stroke-width="3.5"/>
<path d="M300.0,892.5 L336.6,845.3" stroke-width="3.0"/>
<path d="M300.0,916.4 L307.5,907.4 L352.5,848.8" stroke-width="3.0"/>
<path d="M389.6,808.2 L434.7,760.0" stroke-width="3.2"/>
<path d="M395.5,813.0 L442.6,760.0" stroke-width="3.0"/>
<!-- l1.txt -->
<path d="M759.0,549.0 L758.5,546.0 L754.0,557.5 L752.0,562.7" stroke-width="3.5"/>
<path d="M746.2,548.0 L743.4,560.0" stroke-width="2.8"/>
<path d="M698.2,560.0 L673.2,548.3" stroke-width="3.2"/>
<path d="M708.9,560.0 L678.0,543.5" stroke-width="2.8"/>
<ellipse cx="725.5" cy="552.0" rx="6.0" ry="4.5" transform="rotate(-15 725.5 552.0)" stroke-width="3.2"/>
<!-- z_leaders.txt -->
<path d="M638.5,94.4 L638.5,146.0" stroke-width="2.0"/>
<path d="M303.6,244.0 L303.6,305.4" stroke-width="2.0"/>
<path d="M503.0,136.5 L503.0,152.0" stroke-width="2.0"/></g>
<g class="num">
<text x="632.4" y="76">1</text>
<text x="299.3" y="227.7">2</text>
<text x="497.3" y="116.4">3</text>
<text x="450" y="154.1">4</text>
<text x="855.2" y="325.4">5</text>
<text x="826.8" y="369.2">4</text>
<text x="366.7" y="464">7</text>
<text x="553" y="759.2">4</text>
<text x="511" y="796.5">7</text>
<text x="659" y="820.5">6</text>
</g>
</svg>
</body></html>
